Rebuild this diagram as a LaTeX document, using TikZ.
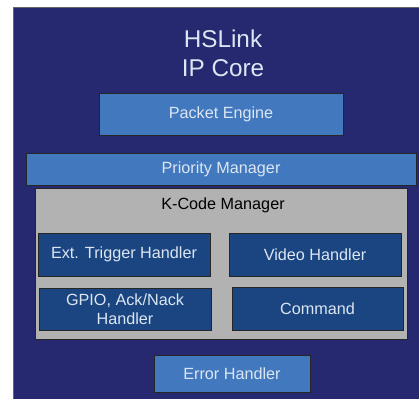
\documentclass[tikz,border=0pt]{standalone}
\usepackage{fontspec}
\setmainfont{Liberation Sans}
\definecolor{navy}{HTML}{262870}
\definecolor{lblue}{HTML}{4178BE}
\definecolor{dblue}{HTML}{1A4580}
\definecolor{kgray}{HTML}{B2B2B2}
\definecolor{ltext}{HTML}{DCE6F2}
\begin{document}
\begin{tikzpicture}[x=1pt,y=-1pt,
  box/.style={draw=black!85,line width=0.8pt,inner sep=0pt,font=\fontsize{16.2}{18}\selectfont,text=ltext,align=center},
  lbox/.style={box,fill=lblue},
  dbox/.style={box,fill=dblue}]
\useasboundingbox (0,0) rectangle (419,398);
\fill[white] (0,0) rectangle (419,398);
\draw[fill=navy,draw=black!60,line width=0.8pt] (13,7) rectangle (425,405);
\node[text=ltext,font=\fontsize{24.3}{29}\selectfont,align=center,anchor=north] (title) at (223,26.5) {HSLink\\IP Core};
\node[lbox,minimum width=244,minimum height=42] (pe) at (221,114) {Packet Engine};
\node[lbox,minimum width=390,minimum height=32] (pm) at (221,169) {Priority Manager};
\node[box,fill=kgray,minimum width=372,minimum height=151] (kc) at (221,263.5) {};
\node[text=black,font=\fontsize{16.2}{18}\selectfont,anchor=base] (kct) at (223,209) {K-Code Manager};
\node[dbox,minimum width=172,minimum height=43] (et) at (124,254.5) {Ext. Trigger Handler};
\node[dbox,minimum width=172,minimum height=43] (vh) at (315,254.5) {Video Handler};
\node[dbox,minimum width=172,minimum height=42,font=\fontsize{16.2}{18.5}\selectfont] (gp) at (125,309) {GPIO, Ack/Nack\\Handler};
\node[dbox,minimum width=171,minimum height=43] (cm) at (317.5,308.5) {Command};
\node[lbox,minimum width=156,minimum height=37] (eh) at (232,373.5) {Error Handler};
\end{tikzpicture}
\end{document}
